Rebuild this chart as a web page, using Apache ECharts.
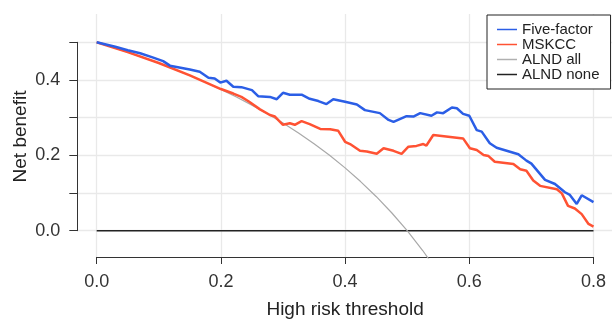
<!DOCTYPE html>
<html><head><meta charset="utf-8">
<script src="https://cdn.jsdelivr.net/npm/echarts@6/dist/echarts.min.js"></script>
<style>html,body{margin:0;padding:0;background:#fff}#c{width:612px;height:320px}</style>
</head><body><div id="c"></div><script>
// ---- data ----
const seriesNames = ['Five-factor', 'MSKCC', 'ALND all', 'ALND none'];
const xTickLabels = ['0.0', '0.2', '0.4', '0.6', '0.8'];
const yTickLabels = ['0.0', '', '0.2', '', '0.4', ''];

const fiveFactorThreshold = [0, .03, .05, .07, .09, .107, .118, .150, .166, .180, .190, .199, .209, .220, .233, .250, .260, .279, .290, .300, .311, .330, .343, .357, .370, .381, .400, .419, .432, .456, .470, .478, .499, .510, .521, .539, .548, .558, .572, .580, .590, .600, .612, .620, .633, .644, .679, .692, .700, .722, .738, .754, .762, .773, .781, .800];
const fiveFactorBenefit   = [.5, .488, .479, .471, .460, .450, .438, .428, .422, .406, .404, .393, .398, .382, .381, .373, .357, .355, .349, .366, .361, .361, .350, .344, .336, .349, .342, .335, .320, .312, .294, .289, .304, .303, .312, .305, .314, .312, .327, .325, .310, .305, .267, .263, .232, .220, .203, .186, .178, .135, .124, .102, .095, .071, .094, .076];

const mskccThreshold = [0, .05, .10, .15, .20, .22, .233, .245, .263, .279, .287, .300, .311, .319, .330, .343, .360, .376, .389, .400, .408, .424, .435, .451, .462, .478, .491, .502, .515, .526, .531, .542, .590, .601, .612, .623, .631, .641, .671, .682, .692, .703, .714, .741, .749, .759, .770, .781, .792, .800];
const mskccBenefit   = [.5, .474, .445, .412, .376, .364, .355, .343, .322, .307, .303, .281, .285, .281, .291, .283, .270, .269, .265, .236, .230, .212, .210, .204, .219, .212, .204, .223, .225, .230, .226, .254, .245, .219, .214, .201, .198, .183, .177, .163, .159, .133, .119, .110, .099, .066, .059, .044, .018, .011];

const alndAllThreshold = [0, .025, .05, .075, .1, .125, .15, .175, .2, .225, .25, .275, .3, .325, .35, .375, .4, .425, .45, .475, .5, .525, .55];
const alndAllBenefit   = [.5, .4872, .4737, .4595, .4444, .4286, .4118, .3939, .375, .3548, .3333, .3103, .2857, .2593, .2308, .2, .1667, .1304, .0909, .0476, 0, -.0526, -.1111];

const alndNoneThreshold = [0, .8];
const alndNoneBenefit   = [0, 0];

// ---- chart ----
function pairs(xs, ys) { return xs.map((x, i) => [x, ys[i]]); }
const font = '"Liberation Sans", Arial, Helvetica, sans-serif';
const colors = { 'Five-factor': '#2b5ee6', 'MSKCC': '#ff5233', 'ALND all': '#b0b0b0', 'ALND none': '#222' };
const hiddenAxis = (gi) => ({ gridIndex: gi, type: 'value', show: false, min: 0, max: 1 });
const chart = echarts.init(document.getElementById('c'));

chart.setOption({
  animation: false,
  textStyle: { fontFamily: font },
  grid: [
    { left: 77.3, right: 0, top: 14, bottom: 62 },          // panel with data + gridlines
    { left: 77.3, width: 10, top: 42.3, bottom: 89.3 },      // holds the y axis (0..0.5)
    { left: 96.7, right: 18.5, height: 10, bottom: 62 }      // holds the x axis (0..0.8)
  ],
  xAxis: [
    { gridIndex: 0, type: 'value', min: -0.0312, max: 0.8298, splitNumber: 5, minInterval: 0.2, maxInterval: 0.2,
      axisLine: { show: false }, axisTick: { show: false }, axisLabel: { show: false },
      splitLine: { show: true, showMinLine: false, showMaxLine: false, lineStyle: { color: '#e9e9e9', width: 1.3 } } },
    hiddenAxis(1),
    { gridIndex: 2, type: 'value', min: 0, max: 0.8, interval: 0.2, position: 'bottom',
      axisLine: { show: true, onZero: false, lineStyle: { color: '#333', width: 1 } },
      axisTick: { show: true, length: 7, lineStyle: { color: '#333', width: 1 } },
      axisLabel: { fontSize: 18, color: '#333', margin: 16, fontFamily: font,
        formatter: (v) => xTickLabels[Math.round(v / 0.2)] },
      splitLine: { show: false },
      name: 'High risk threshold', nameLocation: 'middle', nameGap: 43,
      nameTextStyle: { fontSize: 19, color: '#222', fontFamily: font } }
  ],
  yAxis: [
    { gridIndex: 0, type: 'value', min: -0.07245, max: 0.5751, splitNumber: 6, minInterval: 0.1, maxInterval: 0.1,
      axisLine: { show: false }, axisTick: { show: false }, axisLabel: { show: false },
      splitLine: { show: true, showMinLine: false, showMaxLine: false, lineStyle: { color: '#e9e9e9', width: 1.3 } } },
    { gridIndex: 1, type: 'value', min: 0, max: 0.5, interval: 0.1, position: 'left',
      axisLine: { show: true, onZero: false, lineStyle: { color: '#333', width: 1 } },
      axisTick: { show: true, length: 8, lineStyle: { color: '#333', width: 1 } },
      axisLabel: { fontSize: 18, color: '#333', margin: 17, fontFamily: font,
        formatter: (v) => yTickLabels[Math.round(v / 0.1)] },
      splitLine: { show: false },
      name: 'Net benefit', nameLocation: 'middle', nameGap: 47, nameRotate: 90,
      nameTextStyle: { fontSize: 19, color: '#222', fontFamily: font } },
    hiddenAxis(2)
  ],
  legend: {
    orient: 'vertical', left: 487, top: 15,
    data: seriesNames.map(n => ({ name: n, icon: 'rect', itemStyle: { color: colors[n] } })),
    itemWidth: 20, itemHeight: 1.5, itemGap: 0, itemTextGap: 6,
    padding: [7, 11, 7, 10],
    borderColor: '#222', borderWidth: 1, backgroundColor: '#fff',
    textStyle: { fontSize: 15, lineHeight: 15, color: '#222', fontFamily: font }
  },
  series: [
    { name: seriesNames[3], type: 'line', xAxisIndex: 0, yAxisIndex: 0, data: pairs(alndNoneThreshold, alndNoneBenefit),
      symbol: 'none', lineStyle: { color: colors['ALND none'], width: 1.5 }, itemStyle: { color: colors['ALND none'] } },
    { name: seriesNames[2], type: 'line', xAxisIndex: 0, yAxisIndex: 0, data: pairs(alndAllThreshold, alndAllBenefit),
      symbol: 'none', lineStyle: { color: '#a9a9a9', width: 1.2 }, itemStyle: { color: colors['ALND all'] } },
    { name: seriesNames[1], type: 'line', xAxisIndex: 0, yAxisIndex: 0, data: pairs(mskccThreshold, mskccBenefit),
      symbol: 'none', lineStyle: { color: colors['MSKCC'], width: 2.5 }, itemStyle: { color: colors['MSKCC'] } },
    { name: seriesNames[0], type: 'line', xAxisIndex: 0, yAxisIndex: 0, data: pairs(fiveFactorThreshold, fiveFactorBenefit),
      symbol: 'none', lineStyle: { color: colors['Five-factor'], width: 2.5 }, itemStyle: { color: colors['Five-factor'] } }
  ]
});
</script></body></html>
